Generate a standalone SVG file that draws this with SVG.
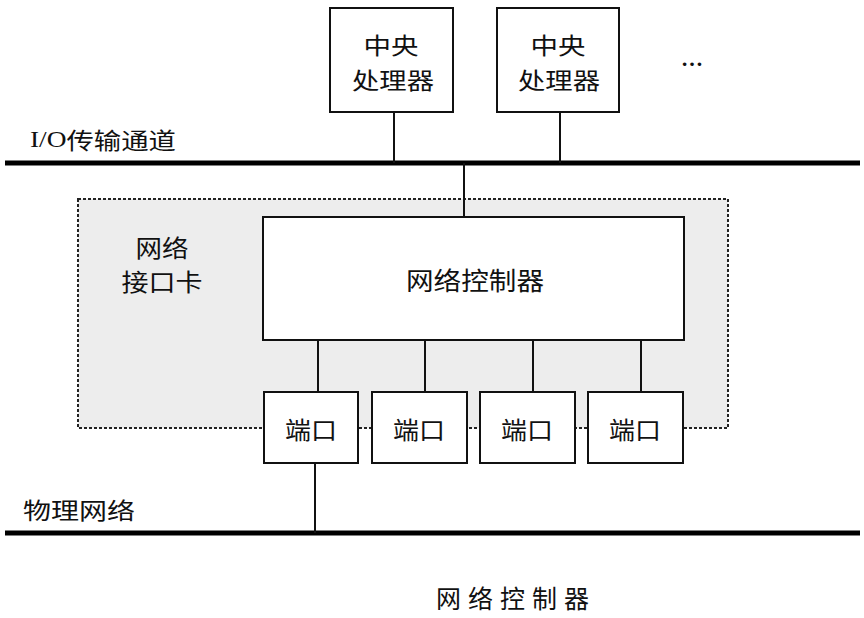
<svg xmlns="http://www.w3.org/2000/svg" width="864" height="618" viewBox="0 0 864 618">
<style>
.box{fill:#fff;stroke:#111;stroke-width:2}
.t{font-family:"Noto Sans CJK SC","Liberation Serif",serif;fill:#111;dominant-baseline:central}
.c{text-anchor:middle}
.s{text-anchor:start}
.ln{stroke:#111;stroke-width:2;fill:none}
.bus{stroke:#000;stroke-width:5;fill:none}
</style>
<rect width="864" height="618" fill="#fff"/>
<g id="nic">
<rect x="78" y="199" width="650" height="229" fill="#ededed" stroke="#222" stroke-width="2" stroke-dasharray="3,2"/>
<text class="t c" x="162" y="246" font-size="24" textLength="53" lengthAdjust="spacingAndGlyphs">网络</text>
<text class="t c" x="162" y="280" font-size="24" textLength="81" lengthAdjust="spacingAndGlyphs">接口卡</text>
</g>
<g id="connectors">
<line class="bus" x1="5" y1="163" x2="860" y2="163"/>
<line class="bus" x1="5" y1="533" x2="860" y2="533"/>
<line class="ln" x1="394" y1="112" x2="394" y2="163"/>
<line class="ln" x1="560" y1="112" x2="560" y2="163"/>
<line class="ln" x1="464" y1="163" x2="464" y2="217"/>
<line class="ln" x1="318" y1="340" x2="318" y2="392"/>
<line class="ln" x1="425" y1="340" x2="425" y2="392"/>
<line class="ln" x1="533" y1="340" x2="533" y2="392"/>
<line class="ln" x1="641" y1="340" x2="641" y2="392"/>
<line class="ln" x1="315" y1="463" x2="315" y2="533"/>
</g>
<g id="cpu1">
<rect class="box" x="330" y="8" width="123" height="104"/>
<text class="t c" x="391" y="44" font-size="23" textLength="55" lengthAdjust="spacingAndGlyphs">中央</text>
<text class="t c" x="393" y="79" font-size="23" textLength="82" lengthAdjust="spacingAndGlyphs">处理器</text>
</g>
<g id="cpu2">
<rect class="box" x="497" y="8" width="122" height="104"/>
<text class="t c" x="558" y="44" font-size="23" textLength="55" lengthAdjust="spacingAndGlyphs">中央</text>
<text class="t c" x="559" y="79" font-size="23" textLength="82" lengthAdjust="spacingAndGlyphs">处理器</text>
</g>
<g id="ellipsis">
<text x="692" y="66" font-family="Liberation Serif,serif" font-size="22" font-weight="bold" text-anchor="middle" fill="#111">…</text>
</g>
<g id="io-label">
<text class="t s" x="30" y="139" font-size="23" textLength="146" lengthAdjust="spacingAndGlyphs"><tspan font-family="Liberation Serif,serif">I/O</tspan>传输通道</text>
</g>
<g id="controller">
<rect class="box" x="263" y="217" width="421" height="123"/>
<text class="t c" x="475" y="279" font-size="25" textLength="138" lengthAdjust="spacingAndGlyphs">网络控制器</text>
</g>
<g id="port1">
<rect class="box" x="264" y="392" width="94" height="71"/>
<text class="t c" x="311" y="428" font-size="24" textLength="52" lengthAdjust="spacingAndGlyphs">端口</text>
</g>
<g id="port2">
<rect class="box" x="372" y="392" width="95" height="71"/>
<text class="t c" x="419" y="428" font-size="24" textLength="52" lengthAdjust="spacingAndGlyphs">端口</text>
</g>
<g id="port3">
<rect class="box" x="480" y="392" width="95" height="71"/>
<text class="t c" x="527" y="428" font-size="24" textLength="52" lengthAdjust="spacingAndGlyphs">端口</text>
</g>
<g id="port4">
<rect class="box" x="588" y="392" width="95" height="71"/>
<text class="t c" x="635" y="428" font-size="24" textLength="52" lengthAdjust="spacingAndGlyphs">端口</text>
</g>
<g id="phys-label">
<text class="t s" x="23" y="509" font-size="23" textLength="112" lengthAdjust="spacingAndGlyphs">物理网络</text>
</g>
<g id="caption">
<text class="t c" x="516" y="597" font-size="25" letter-spacing="7">网络控制器</text>
</g>
</svg>
